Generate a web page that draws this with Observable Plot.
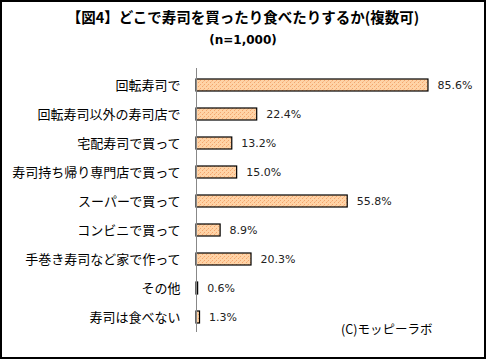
<!DOCTYPE html>
<html>
<head>
<meta charset="utf-8">
<script src="https://cdn.jsdelivr.net/npm/d3@7"></script>
<script src="https://cdn.jsdelivr.net/npm/@observablehq/plot@0.6"></script>
<style>
  html, body { margin: 0; padding: 0; background: #fff; }
  #wrap { position: relative; width: 490px; height: 363px; font-family: "Noto Sans CJK JP", sans-serif; }
  #border { position: absolute; left: 0; top: 0; width: 482px; height: 355px; border: 2px solid #000; }
  #title { position: absolute; left: 0; width: 486px; top: 7px; text-align: center; font-size: 14.5px; font-weight: bold; color: #000; white-space: nowrap; line-height: 20px; }
  #subtitle { position: absolute; left: 0; width: 486px; top: 33px; text-align: center; font-size: 12px; font-weight: bold; color: #000; font-family: "DejaVu Sans", sans-serif; }
  #caption { position: absolute; left: 341px; top: 319px; font-size: 12.5px; color: #000; }
  #chart { position: absolute; left: 0; top: 0; }
</style>
</head>
<body>
<div id="wrap">
  <div id="border"></div>
  <div id="title">【図4】どこで寿司を買ったり食べたりするか(複数可)</div>
  <div id="subtitle">(n=1,000)</div>
  <div id="chart"></div>
  <div id="caption">(C)モッピーラボ</div>
</div>
<script>
const categories = [
  "回転寿司で",
  "回転寿司以外の寿司店で",
  "宅配寿司で買って",
  "寿司持ち帰り専門店で買って",
  "スーパーで買って",
  "コンビニで買って",
  "手巻き寿司など家で作って",
  "その他",
  "寿司は食べない"
];
const values = [85.6, 22.4, 13.2, 15.0, 55.8, 8.9, 20.3, 0.6, 1.3];
const valueLabels = ["85.6%", "22.4%", "13.2%", "15.0%", "55.8%", "8.9%", "20.3%", "0.6%", "1.3%"];

const data = categories.map((c, i) => ({cat: c, v: values[i], label: valueLabels[i]}));

const chart = Plot.plot({
  width: 486,
  height: 359,
  marginLeft: 196,
  marginRight: 19,
  marginTop: 68,
  marginBottom: 27,
  style: {fontFamily: "'Noto Sans CJK JP', sans-serif", background: "transparent", overflow: "visible"},
  x: {domain: [0, 100], axis: null},
  y: {domain: categories, range: [78, 323], paddingInner: 0.59, paddingOuter: 0, label: null},
  marks: [
    Plot.barX(data, {x: "v", y: "cat", fill: "url(#dots)", stroke: "#000", strokeWidth: 1.2}),
    Plot.ruleX([0], {stroke: "#888", strokeWidth: 1}),
    Plot.text(data, {x: "v", y: "cat", text: "label", textAnchor: "start", dx: 9, fontSize: 11, fill: "#222", fontFamily: "'DejaVu Sans', sans-serif"}),
    Plot.axisY({tickSize: 0, tickPadding: 16, fontSize: 13, label: null, fill: "#000"})
  ]
});

const svg = d3.select(chart);
const defs = svg.insert("defs", ":first-child");
const pat = defs.append("pattern").attr("id", "dots").attr("patternUnits", "userSpaceOnUse").attr("width", 4).attr("height", 4);
pat.append("rect").attr("width", 4).attr("height", 4).attr("fill", "#FFD3A6");
pat.append("rect").attr("x", 0).attr("y", 0).attr("width", 1).attr("height", 1).attr("fill", "#F3A56E");
pat.append("rect").attr("x", 2).attr("y", 2).attr("width", 1).attr("height", 1).attr("fill", "#F3A56E");
pat.append("rect").attr("x", 3).attr("y", 1).attr("width", 1).attr("height", 1).attr("fill", "#F8BC8A");

document.getElementById("chart").appendChild(chart);
</script>
</body>
</html>
